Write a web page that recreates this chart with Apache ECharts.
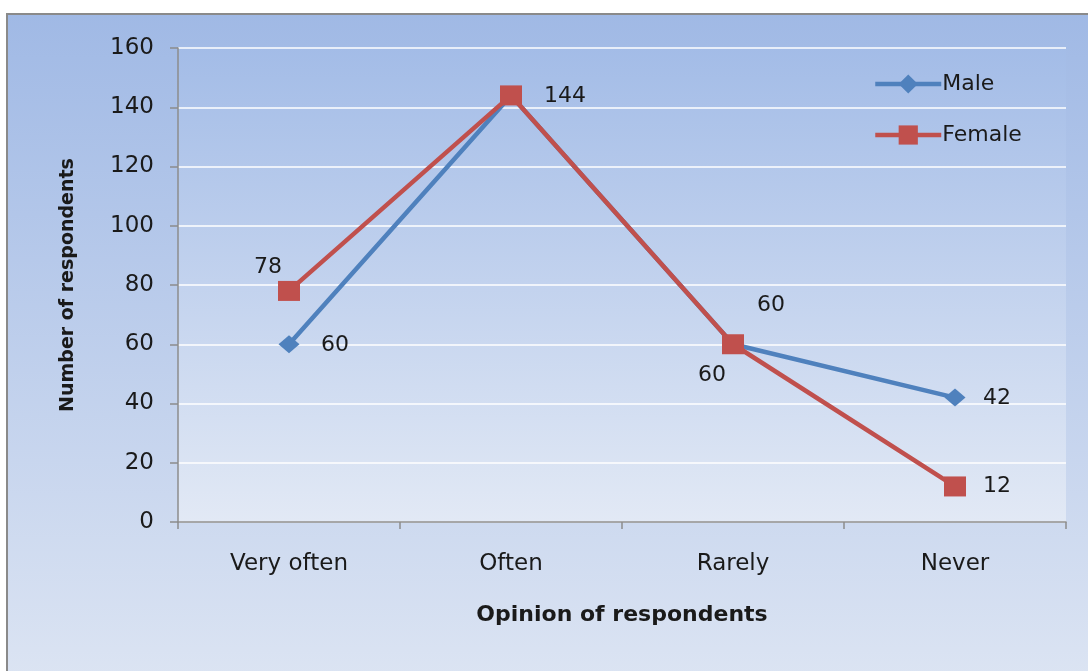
<!DOCTYPE html>
<html>
<head>
<meta charset="utf-8">
<script src="https://cdn.jsdelivr.net/npm/echarts@6/dist/echarts.min.js"></script>
<style>
  html, body { margin: 0; padding: 0; background: #ffffff; }
  #chart { width: 1088px; height: 671px; }
</style>
</head>
<body>
<div id="chart"></div>
<script>
// Survey: how often respondents report the behaviour, by gender
const categories = ['Very often', 'Often', 'Rarely', 'Never'];
const maleValues = [60, 144, 60, 42];
const femaleValues = [78, 144, 60, 12];
const yTicks = [0, 20, 40, 60, 80, 100, 120, 140, 160];

// Label placement per point (offset from the marker centre)
const maleLabelOffsets = [[46, 1], null, [38, -39], [42, 1]];
const femaleLabelOffsets = [[-21, -24], [54, 1], [-21, 31], [42, 0]];

const FONT = '"DejaVu Sans", "Open Sans", sans-serif';
const TEXT = '#1a1a1a';

function buildPoints(values, offsets) {
  return values.map((v, i) => {
    const off = offsets[i];
    return {
      value: v,
      label: off
        ? { show: true, position: 'inside', offset: off }
        : { show: false }
    };
  });
}

const chart = echarts.init(document.getElementById('chart'), null, { renderer: 'canvas' });

chart.setOption({
  animation: false,
  backgroundColor: '#ffffff',
  graphic: [{
    type: 'rect',
    z: -10,
    silent: true,
    shape: { x: 7, y: 14, width: 1100, height: 680 },
    style: {
      fill: new echarts.graphic.LinearGradient(0, 0, 0, 1, [
        { offset: 0, color: '#a0b9e5' },
        { offset: 1, color: '#dde5f3' }
      ]),
      stroke: '#8a8a8a',
      lineWidth: 2
    }
  }],
  grid: {
    left: 178, right: 22, top: 48, bottom: 149,
    show: true,
    borderWidth: 0,
    backgroundColor: new echarts.graphic.LinearGradient(0, 0, 0, 1, [
      { offset: 0, color: '#a3bce7' },
      { offset: 1, color: '#e2e9f5' }
    ])
  },
  legend: {
    orient: 'vertical',
    left: 868,
    top: 68,
    itemGap: 29,
    itemWidth: 66,
    itemHeight: 24,
    lineStyle: { width: 4.5 },
    textStyle: { fontFamily: FONT, fontSize: 22, color: TEXT, padding: [0, 0, 0, -4] },
    data: ['Male', 'Female']
  },
  xAxis: {
    type: 'category',
    data: categories,
    boundaryGap: true,
    name: 'Opinion of respondents',
    nameLocation: 'middle',
    nameGap: 82,
    nameTextStyle: { fontFamily: FONT, fontSize: 22, fontWeight: 'bold', color: TEXT },
    axisLine: { lineStyle: { color: '#8c8c8c', width: 1.5 } },
    axisTick: { show: true, length: 7, alignWithLabel: false, lineStyle: { color: '#8c8c8c', width: 1.5 } },
    axisLabel: { fontFamily: FONT, fontSize: 23, color: TEXT, margin: 31 },
    splitLine: { show: false }
  },
  yAxis: {
    type: 'value',
    min: yTicks[0],
    max: yTicks[yTicks.length - 1],
    interval: yTicks[1] - yTicks[0],
    name: 'Number of respondents',
    nameLocation: 'middle',
    nameGap: 100,
    nameTextStyle: { fontFamily: FONT, fontSize: 19, fontWeight: 'bold', color: TEXT },
    axisLine: { show: true, lineStyle: { color: '#8c8c8c', width: 1.5 } },
    axisTick: { show: true, length: 8, lineStyle: { color: '#8c8c8c', width: 1.5 } },
    axisLabel: { fontFamily: FONT, fontSize: 23, color: TEXT, margin: 24 },
    splitLine: { show: true, lineStyle: { color: '#ffffff', width: 1.5 } }
  },
  series: [
    {
      name: 'Male',
      type: 'line',
      data: buildPoints(maleValues, maleLabelOffsets),
      symbol: 'diamond',
      symbolSize: [21, 18],
      lineStyle: { color: '#4f81bd', width: 4.5 },
      itemStyle: { color: '#4f81bd' },
      label: { fontFamily: FONT, fontSize: 22, color: TEXT },
      z: 2
    },
    {
      name: 'Female',
      type: 'line',
      data: buildPoints(femaleValues, femaleLabelOffsets),
      symbol: 'rect',
      symbolSize: [22, 20],
      lineStyle: { color: '#c0504d', width: 4.5 },
      itemStyle: { color: '#c0504d' },
      label: { fontFamily: FONT, fontSize: 22, color: TEXT },
      z: 3
    }
  ]
});
</script>
</body>
</html>
